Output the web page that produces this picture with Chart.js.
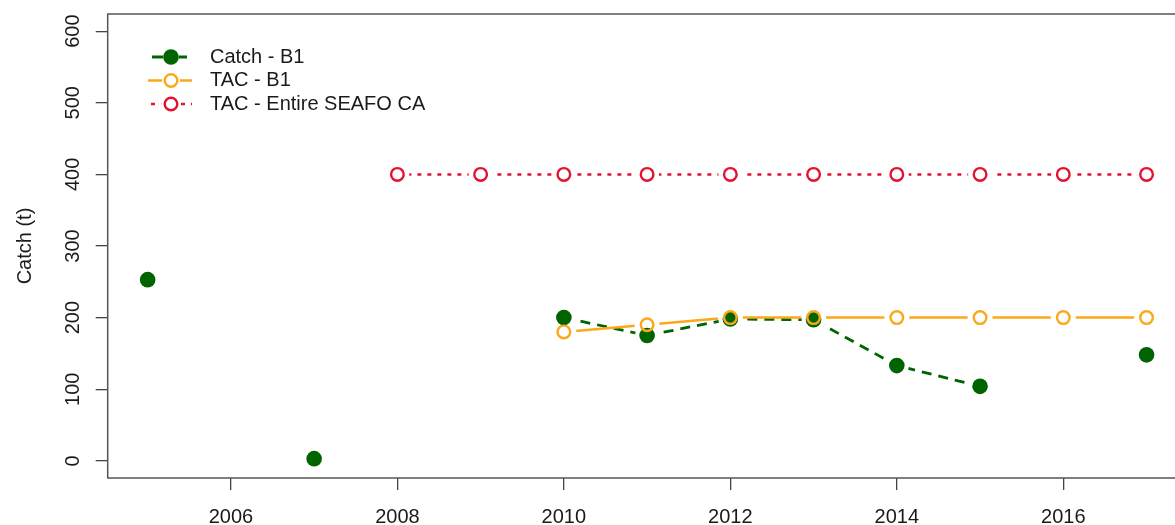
<!DOCTYPE html>
<html>
<head>
<meta charset="utf-8">
<script src="https://cdn.jsdelivr.net/npm/chart.js@4"></script>
<style>
  html, body { margin: 0; padding: 0; background: #fff; overflow: hidden; }
  #chart { display: block; }
</style>
</head>
<body>
<canvas id="chart" width="1200" height="525"></canvas>
<script>
const years = [2005, 2006, 2007, 2008, 2009, 2010, 2011, 2012, 2013, 2014, 2015, 2016, 2017];
const catchB1 = [253, null, 3, null, null, 200, 175, 198, 197, 133, 104, null, 148];
const tacB1 = [null, null, null, null, null, 180, 190, 200, 200, 200, 200, 200, 200];
const tacAll = [null, null, null, 400, 400, 400, 400, 400, 400, 400, 400, 400, 400];
const seriesNames = ["Catch - B1", "TAC - B1", "TAC - Entire SEAFO CA"];
const xTicks = [2006, 2008, 2010, 2012, 2014, 2016];
const yTicks = [0, 100, 200, 300, 400, 500, 600];
const yTitle = "Catch (t)";

const FONT = '"Liberation Sans", Arial, Helvetica, sans-serif';
const GREEN = "#006400";
const ORANGE = "#fba91a";
const RED = "#e3122f";
const AXIS = "#444";
const TEXT = "#1a1a1a";

const toPoints = (vals) => years.map((yr, i) => ({ x: yr, y: vals[i] }));

// R style "b" lines: the line stops short of each point
const gapRadius = [12, 12.5, 12];
// legend samples: line start/end, gap round the marker, dashed or not
const legendLine = [
  { from: 152, to: 187, gap: 8, dash: [] },
  { from: 148, to: 192, gap: 9, dash: [] },
  { from: 151, to: 192, gap: 10, dash: [4, 6] },
];

const gapPlugin = {
  id: "gaps",
  beforeDatasetDraw(chart, args) {
    const ctx = chart.ctx;
    const r = gapRadius[args.index];
    ctx.save();
    ctx.beginPath();
    ctx.rect(0, 0, chart.width, chart.height);
    args.meta.data.forEach((pt) => {
      if (pt.skip) return;
      ctx.moveTo(pt.x + r, pt.y);
      ctx.arc(pt.x, pt.y, r, 0, Math.PI * 2, true);
    });
    ctx.clip("evenodd");
  },
  afterDatasetDraw(chart, args) {
    const ctx = chart.ctx;
    ctx.restore();
    args.meta.data.forEach((pt) => pt.draw(ctx, chart.chartArea));
  },
};

const framePlugin = {
  id: "frame",
  afterDraw(chart) {
    const ctx = chart.ctx;
    const a = chart.chartArea;
    const yScale = chart.scales.y;

    // box
    ctx.save();
    ctx.strokeStyle = "#555";
    ctx.lineWidth = 1.5;
    ctx.strokeRect(a.left, a.top, a.right - a.left, a.bottom - a.top);

    // y tick labels, rotated like R's las = 0
    ctx.fillStyle = TEXT;
    ctx.font = "20px " + FONT;
    ctx.textAlign = "center";
    ctx.textBaseline = "alphabetic";
    yTicks.forEach((v) => {
      const y = yScale.getPixelForValue(v);
      ctx.save();
      ctx.translate(79, y);
      ctx.rotate(-Math.PI / 2);
      ctx.fillText(String(v), 0, 0);
      ctx.restore();
    });

    // y title
    ctx.save();
    ctx.translate(31, (a.top + a.bottom) / 2);
    ctx.rotate(-Math.PI / 2);
    ctx.fillText(yTitle, 0, 0);
    ctx.restore();

    // legend
    const rows = [57, 80.5, 104];
    chart.data.datasets.forEach((ds, i) => {
      const y = rows[i];
      const ln = legendLine[i];
      ctx.save();
      ctx.beginPath();
      ctx.rect(0, 0, chart.width, chart.height);
      ctx.moveTo(171 + ln.gap, y);
      ctx.arc(171, y, ln.gap, 0, Math.PI * 2, true);
      ctx.clip("evenodd");
      ctx.strokeStyle = ds.borderColor;
      ctx.lineWidth = ds.borderWidth;
      ctx.setLineDash(ln.dash);
      ctx.beginPath();
      ctx.moveTo(ln.from, y);
      ctx.lineTo(ln.to, y);
      ctx.stroke();
      ctx.restore();

      ctx.save();
      ctx.beginPath();
      ctx.arc(171, y, ds.pointRadius, 0, Math.PI * 2);
      if (ds.pointBorderWidth === 0) {
        ctx.fillStyle = ds.pointBackgroundColor;
        ctx.fill();
      } else {
        ctx.strokeStyle = ds.pointBorderColor;
        ctx.lineWidth = ds.pointBorderWidth;
        ctx.stroke();
      }
      ctx.restore();

      ctx.fillStyle = TEXT;
      ctx.font = "20px " + FONT;
      ctx.textAlign = "left";
      ctx.textBaseline = "middle";
      ctx.fillText(seriesNames[i], 210, y);
    });
    ctx.restore();
  },
};

new Chart(document.getElementById("chart"), {
  type: "line",
  data: {
    datasets: [
      {
        label: seriesNames[0],
        data: toPoints(catchB1),
        borderColor: GREEN,
        borderWidth: 2.8,
        borderDash: [10, 7],
        pointRadius: 7.8,
        pointBackgroundColor: GREEN,
        pointBorderColor: GREEN,
        pointBorderWidth: 0,
        spanGaps: false,
        order: 3,
      },
      {
        label: seriesNames[1],
        data: toPoints(tacB1),
        borderColor: ORANGE,
        borderWidth: 2.5,
        pointRadius: 6.3,
        pointBackgroundColor: "rgba(0,0,0,0)",
        pointBorderColor: ORANGE,
        pointBorderWidth: 2.4,
        spanGaps: false,
        order: 2,
      },
      {
        label: seriesNames[2],
        data: toPoints(tacAll),
        borderColor: RED,
        borderWidth: 2.5,
        borderDash: [4, 6],
        pointRadius: 6.3,
        pointBackgroundColor: "rgba(0,0,0,0)",
        pointBorderColor: RED,
        pointBorderWidth: 2.4,
        spanGaps: false,
        order: 1,
      },
    ],
  },
  options: {
    responsive: false,
    animation: false,
    layout: { padding: { top: 14, right: 13.5, left: 0, bottom: 0 } },
    scales: {
      x: {
        type: "linear",
        min: 2004.52,
        max: 2017.48,
        afterBuildTicks: (scale) => {
          scale.ticks = xTicks.map((v) => ({ value: v }));
        },
        afterFit: (scale) => {
          scale.height = 47;
        },
        border: { display: false },
        grid: {
          drawOnChartArea: false,
          drawTicks: true,
          tickLength: 12,
          color: AXIS,
          lineWidth: 1.3,
        },
        ticks: {
          color: TEXT,
          font: { family: FONT, size: 20 },
          padding: 15,
          maxRotation: 0,
          autoSkip: false,
          callback: (v) => String(v),
        },
      },
      y: {
        type: "linear",
        min: -24,
        max: 624,
        afterBuildTicks: (scale) => {
          scale.ticks = yTicks.map((v) => ({ value: v }));
        },
        afterFit: (scale) => {
          scale.width = 107.7;
        },
        border: { display: false },
        grid: {
          drawOnChartArea: false,
          drawTicks: true,
          tickLength: 12,
          color: AXIS,
          lineWidth: 1.3,
        },
        ticks: { display: false },
      },
    },
    plugins: {
      legend: { display: false },
      title: { display: false },
      tooltip: { enabled: false },
    },
  },
  plugins: [gapPlugin, framePlugin],
});
</script>
</body>
</html>
